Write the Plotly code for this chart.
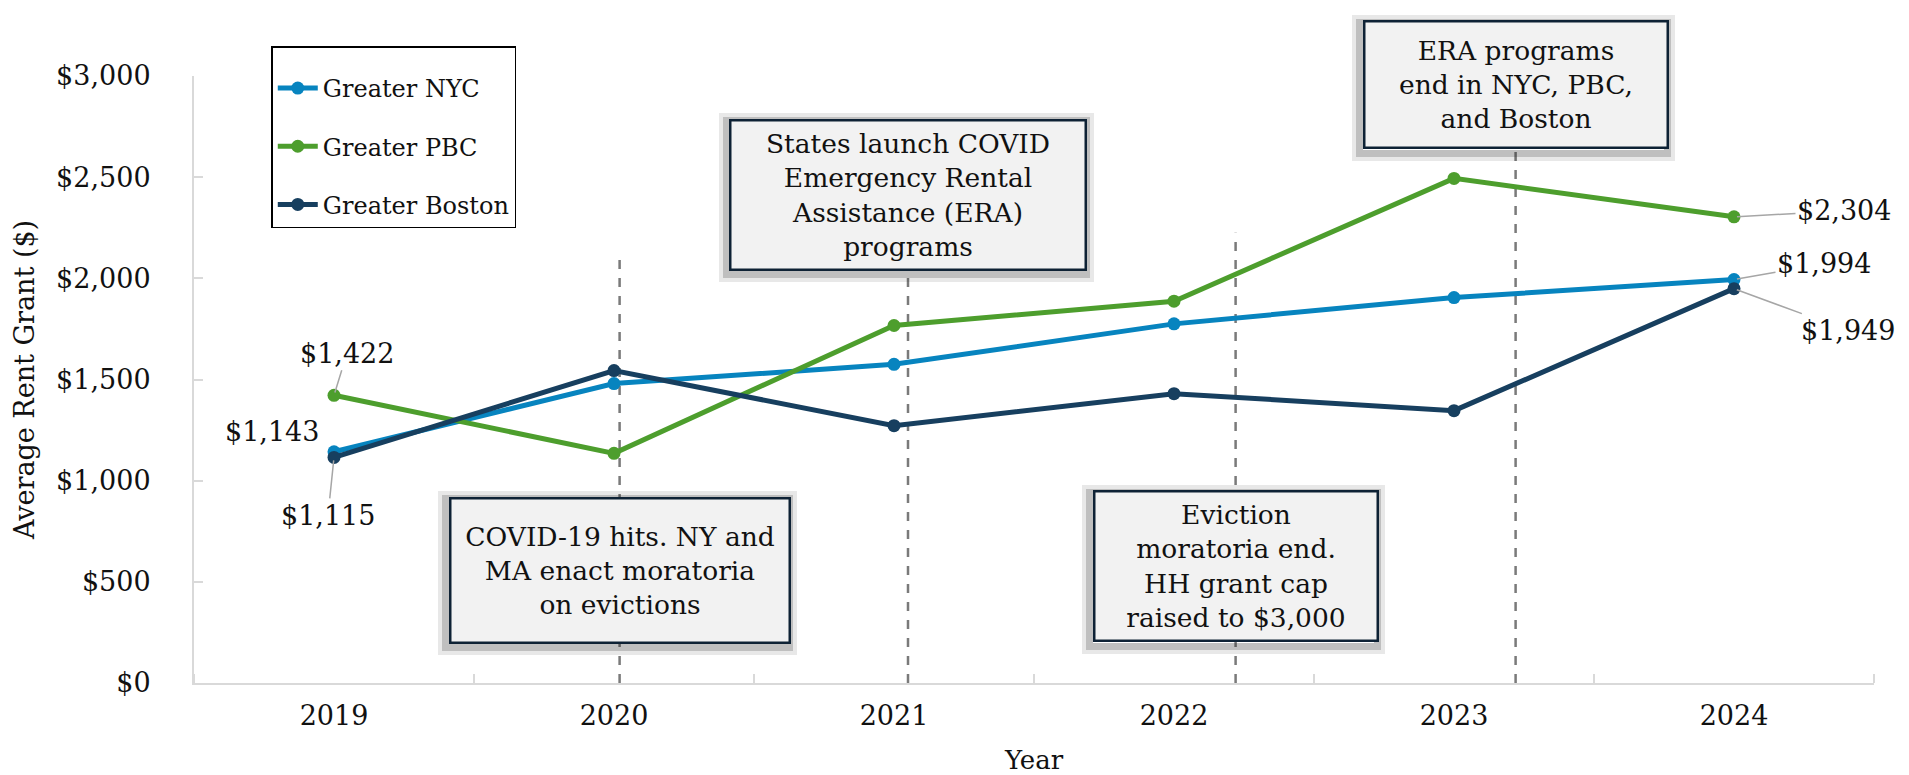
import plotly.graph_objects as go

# ---------------- data ----------------
years = [2019, 2020, 2021, 2022, 2023, 2024]
nyc = [1143, 1480, 1575, 1775, 1905, 1994]
pbc = [1422, 1135, 1767, 1887, 2494, 2304]
boston = [1115, 1544, 1272, 1430, 1346, 1949]
series_names = ["Greater NYC", "Greater PBC", "Greater Boston"]
y_tick_values = [0, 500, 1000, 1500, 2000, 2500, 3000]
y_tick_labels = [f"${v:,}" for v in y_tick_values]

event_years = [2020.02, 2021.05, 2022.22, 2023.22]
event_texts = [
    "COVID-19 hits. NY and<br>MA enact moratoria<br>on evictions",
    "States launch COVID<br>Emergency Rental<br>Assistance (ERA)<br>programs",
    "Eviction<br>moratoria end.<br>HH grant cap<br>raised to $3,000",
    "ERA programs<br>end in NYC, PBC,<br>and Boston",
]

# ---------------- styles ----------------
FONT = "DejaVu Serif, Liberation Serif, serif"
TXT = "#111111"
colors = ["#0784BF", "#4D9E2D", "#173F5F"]
series_values = [nyc, pbc, boston]

# label placements (pixel offsets) for first / last points
first_label = [dict(ax=-62, ay=-20, arrow=False), dict(ax=13, ay=-42, arrow=True), dict(ax=-6, ay=58, arrow=True)]
last_label = [dict(ax=90, ay=-16, arrow=True), dict(ax=110, ay=-6, arrow=True), dict(ax=114, ay=42, arrow=True)]

# event box layout (value-space centre, line top, box size)
event_box_y = [558, 2412, 578, 2958]
event_line_top = [2090, 2040, 2225, 2640]
event_box_size = [(331, 136), (347, 141), (275, 141), (295, 118)]

fig = go.Figure()

for i, (name, vals) in enumerate(zip(series_names, series_values)):
    fig.add_trace(go.Scatter(
        x=years, y=vals, name=name, mode="lines+markers",
        line=dict(color=colors[i], width=5),
        marker=dict(color=colors[i], size=13),
        legendgroup=name,
        hoverinfo="skip",
    ))

shapes = []
for ex, top in zip(event_years, event_line_top):
    shapes.append(dict(type="line", xref="x", yref="y", x0=ex, x1=ex, y0=0, y1=top,
                       line=dict(color="#7A7A7A", width=2.5, dash="dash"), layer="below"))

annotations = []
# data labels
for i, vals in enumerate(series_values):
    for idx, spec in ((0, first_label[i]), (-1, last_label[i])):
        v = vals[idx]
        txt = f"${v:,}"
        if spec["arrow"]:
            annotations.append(dict(x=years[idx], y=v, xref="x", yref="y", text=txt,
                                    showarrow=True, arrowhead=0, arrowwidth=1.5, arrowcolor="#A6A6A6",
                                    ax=spec["ax"], ay=spec["ay"], standoff=3,
                                    font=dict(family=FONT, size=27, color=TXT)))
        else:
            annotations.append(dict(x=years[idx], y=v, xref="x", yref="y", text=txt,
                                    showarrow=False, xshift=spec["ax"], yshift=-spec["ay"],
                                    font=dict(family=FONT, size=27, color=TXT)))

# event boxes with soft shadow
for ex, ey, txt, (w, h) in zip(event_years, event_box_y, event_texts, event_box_size):
    for bw, col in ((11, "rgba(30,30,30,0.10)"), (7, "rgba(30,30,30,0.20)")):
        annotations.append(dict(x=ex, y=ey, xref="x", yref="y", text=txt, showarrow=False,
                                width=w, height=h, borderpad=3, borderwidth=bw,
                                bordercolor=col, bgcolor="rgba(0,0,0,0)",
                                xshift=-2, yshift=-3,
                                font=dict(family=FONT, size=26.5, color="rgba(0,0,0,0)")))
    annotations.append(dict(x=ex, y=ey, xref="x", yref="y", text=txt, showarrow=False,
                            width=w, height=h, borderpad=3, borderwidth=2.5,
                            bordercolor="#0E2235", bgcolor="#F2F2F2", align="center",
                            font=dict(family=FONT, size=26.5, color=TXT)))

fig.update_layout(
    width=1909, height=775,
    margin=dict(l=186, r=43, t=68, b=100, autoexpand=False),
    paper_bgcolor="white", plot_bgcolor="white",
    font=dict(family=FONT, size=25, color=TXT),
    showlegend=True,
    legend=dict(x=0.046, y=1.049, xanchor="left", yanchor="top",
                bgcolor="white", bordercolor="#000000", borderwidth=1.5,
                font=dict(family=FONT, size=24, color=TXT),
                title=dict(text=" ", font=dict(family=FONT, size=14)),
                tracegroupgap=24, itemwidth=40, traceorder="grouped"),
    shapes=shapes,
    annotations=annotations,
    hovermode=False,
)

fig.update_xaxes(
    range=[2018.5, 2024.5], tickmode="array", tickvals=years, ticktext=[str(y) for y in years],
    ticks="", showline=True, linecolor="#D9D9D9", linewidth=2, showgrid=False, zeroline=False,
    ticklabelstandoff=8, tickfont=dict(family=FONT, size=27, color=TXT),
    minor=dict(tick0=2018.5, dtick=1, ticks="inside", ticklen=9, tickcolor="#D9D9D9", tickwidth=2, showgrid=False),
    title=dict(text="Year", font=dict(family=FONT, size=26, color=TXT), standoff=20),
    fixedrange=True,
)
fig.update_yaxes(
    range=[0, 3000], tickmode="array", tickvals=y_tick_values, ticktext=y_tick_labels,
    ticks="inside", ticklen=9, tickcolor="#D9D9D9", tickwidth=2,
    showline=True, linecolor="#D9D9D9", linewidth=2, showgrid=False, zeroline=False,
    ticklabelstandoff=36, tickfont=dict(family=FONT, size=27, color=TXT),
    title=dict(text="Average Rent Grant ($)", font=dict(family=FONT, size=27, color=TXT), standoff=14),
    fixedrange=True,
)

fig.write_html("out.html")
